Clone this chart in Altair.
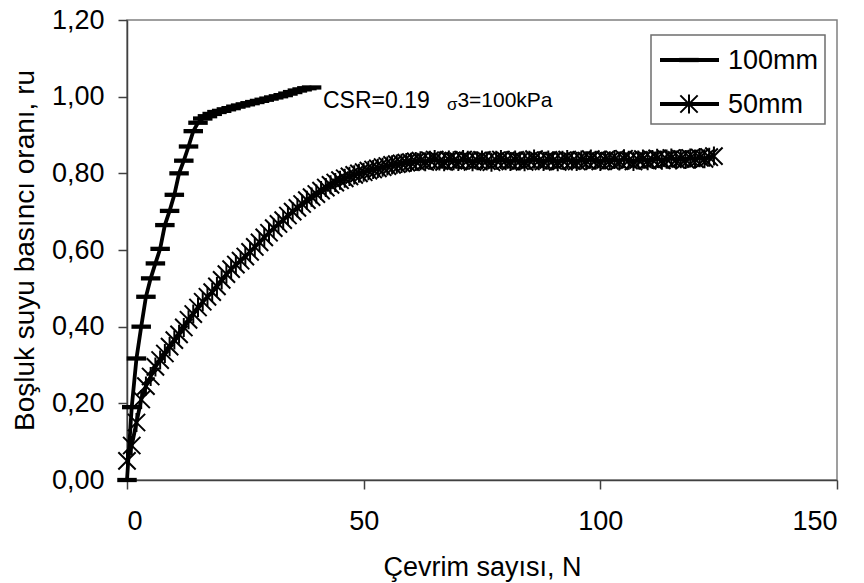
import altair as alt
import pandas as pd

# ---- data ----
n100 = list(range(0, 40))
ru100 = [0.0, 0.19, 0.317, 0.40, 0.478, 0.526, 0.565, 0.603, 0.665, 0.702,
         0.744, 0.80, 0.833, 0.87, 0.91, 0.932, 0.943, 0.949, 0.955, 0.96,
         0.963, 0.967, 0.970, 0.974, 0.977, 0.980, 0.983, 0.986, 0.989, 0.992,
         0.995, 0.998, 1.001, 1.004, 1.008, 1.012, 1.016, 1.019, 1.022, 1.024]

n50 = list(range(0, 125))
ru50 = [0.05, 0.09, 0.15, 0.21, 0.245, 0.27, 0.295, 0.313, 0.33, 0.348,
        0.365, 0.38, 0.398, 0.418, 0.433, 0.45, 0.465, 0.478, 0.49, 0.505,
        0.522, 0.537, 0.55, 0.562, 0.572, 0.583, 0.595, 0.608, 0.62, 0.633,
        0.645, 0.657, 0.668, 0.678, 0.69, 0.70, 0.71, 0.72, 0.73, 0.738,
        0.746, 0.755, 0.763, 0.77, 0.776, 0.782, 0.787, 0.792, 0.796, 0.80,
        0.803, 0.807, 0.81, 0.813, 0.816, 0.819, 0.822, 0.824, 0.826, 0.828,
        0.829, 0.831, 0.833, 0.830, 0.834, 0.836, 0.832, 0.830, 0.835, 0.833,
        0.831, 0.836, 0.834, 0.830, 0.833, 0.835, 0.832, 0.829, 0.834, 0.836,
        0.833, 0.831, 0.835, 0.832, 0.830, 0.834, 0.837, 0.833, 0.831, 0.835,
        0.833, 0.830, 0.834, 0.836, 0.832, 0.831, 0.835, 0.833, 0.837, 0.834,
        0.831, 0.835, 0.833, 0.836, 0.832, 0.838, 0.834, 0.831, 0.835, 0.837,
        0.833, 0.836, 0.839, 0.834, 0.837, 0.840, 0.835, 0.838, 0.836, 0.840,
        0.837, 0.841, 0.838, 0.842, 0.845]

series_names = ["100mm", "50mm"]
x_ticks = [0, 50, 100, 150]
y_ticks = [0.0, 0.2, 0.4, 0.6, 0.8, 1.0, 1.2]
x_title = "Çevrim sayısı, N"
y_title = "Boşluk suyu basıncı oranı, ru"
note_main = "CSR=0.19"
note_sigma = "σ"
note_rest = "3=100kPa"

FONT = "Liberation Sans"
DASH = "M-1,-0.22L1,-0.22L1,0.22L-1,0.22Z"
STAR = "M-1,-1L1,1M-1,1L1,-1M0,-1.1L0,1.1"

df100 = pd.DataFrame({"N": n100, "ru": ru100, "s": series_names[0]})
df50 = pd.DataFrame({"N": n50, "ru": ru50, "s": series_names[1]})

xs = alt.Scale(domain=[0, 150], nice=False)
ys = alt.Scale(domain=[0, 1.2], nice=False)

xaxis = alt.Axis(values=x_ticks, title=x_title, grid=False, labelFontSize=27,
                 titleFontSize=27, labelFont=FONT, titleFont=FONT,
                 titleFontWeight="normal", labelColor="black", titleColor="black",
                 tickSize=9, labelPadding=19, titlePadding=20,
                 domainColor="#404040", tickColor="#404040", domainWidth=1.5, tickWidth=1.5)
yaxis = alt.Axis(values=y_ticks, title=y_title, grid=False, labelFontSize=27,
                 titleFontSize=28, labelFont=FONT, titleFont=FONT,
                 titleFontWeight="normal", labelColor="black", titleColor="black",
                 labelExpr="replace(format(datum.value, '.2f'), '.', ',')",
                 tickSize=9, labelPadding=14, titlePadding=12,
                 domainColor="#404040", tickColor="#404040", domainWidth=1.5, tickWidth=1.5)

base_x = alt.X("N:Q", scale=xs, axis=xaxis)
base_y = alt.Y("ru:Q", scale=ys, axis=yaxis)

line100 = alt.Chart(df100).mark_line(color="black", strokeWidth=3.8).encode(x=base_x, y=base_y)
pts100 = alt.Chart(df100).mark_point(shape=DASH, filled=True, color="black", size=380,
                                     opacity=1, clip=False).encode(x="N:Q", y="ru:Q")
line50 = alt.Chart(df50).mark_line(color="black", strokeWidth=3.8).encode(x="N:Q", y="ru:Q")
pts50 = alt.Chart(df50).mark_point(shape=STAR, filled=False, color="black", size=300,
                                   strokeWidth=2, opacity=1).encode(x="N:Q", y="ru:Q")

one = pd.DataFrame({"a": [0]})
note1 = alt.Chart(one).mark_text(text=note_main, font=FONT, fontSize=23, align="left",
                                 baseline="middle", color="black").encode(
    x=alt.datum(41.4), y=alt.datum(0.99))
note2 = alt.Chart(one).mark_text(text=note_sigma, font=FONT, fontSize=17, align="left",
                                 baseline="middle", color="black").encode(
    x=alt.datum(67.6), y=alt.datum(0.977))
note3 = alt.Chart(one).mark_text(text=note_rest, font=FONT, fontSize=21, align="left",
                                 baseline="middle", color="black").encode(
    x=alt.datum(69.8), y=alt.datum(0.99))

# legend (manual)
box = alt.Chart(one).mark_rect(fill="white", stroke="#6e6e6e", strokeWidth=1.5).encode(
    x=alt.value(524), x2=alt.value(698), y=alt.value(15), y2=alt.value(104))
leg_l1 = alt.Chart(one).mark_rule(color="black", strokeWidth=3.8).encode(
    x=alt.value(533), x2=alt.value(592), y=alt.value(40))
leg_l2 = alt.Chart(one).mark_rule(color="black", strokeWidth=3.8).encode(
    x=alt.value(533), x2=alt.value(592), y=alt.value(84))
leg_m1 = alt.Chart(one).mark_point(shape=DASH, filled=True, color="black", size=380,
                                   opacity=1).encode(x=alt.value(562), y=alt.value(40))
leg_m2 = alt.Chart(one).mark_point(shape=STAR, filled=False, color="black", size=300,
                                   strokeWidth=2, opacity=1).encode(x=alt.value(562), y=alt.value(84))
leg_t1 = alt.Chart(one).mark_text(text=series_names[0], font=FONT, fontSize=27, align="left",
                                  baseline="middle", color="black").encode(
    x=alt.value(601), y=alt.value(41))
leg_t2 = alt.Chart(one).mark_text(text=series_names[1], font=FONT, fontSize=27, align="left",
                                  baseline="middle", color="black").encode(
    x=alt.value(601), y=alt.value(85))

chart = alt.layer(
    line100, line50, pts50, pts100, note1, note2, note3,
    box, leg_l1, leg_l2, leg_m1, leg_m2, leg_t1, leg_t2
).properties(
    width=710, height=460,
    autosize=alt.AutoSizeParams(type="none"),
    padding={"left": 127, "top": 20, "right": 27, "bottom": 103},
    background="white"
).configure_view(stroke="#808080", strokeWidth=1.5)

chart.save("out.html", embed_options={"renderer": "svg", "actions": False})
